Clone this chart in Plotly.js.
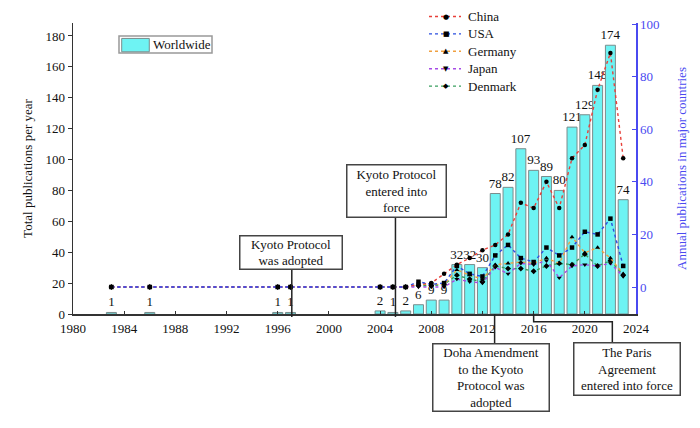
<!DOCTYPE html>
<html>
<head>
<meta charset="utf-8">
<script src="https://cdn.plot.ly/plotly-3.0.1.min.js"></script>
<style>
  html, body { margin: 0; padding: 0; background: #fff; }
  #chart { width: 700px; height: 428px; }
</style>
</head>
<body>
<div id="chart"></div>
<script>
// Publication years
const years = [1983, 1986, 1996, 1997, 2004, 2005, 2006, 2007, 2008, 2009, 2010, 2011,
               2012, 2013, 2014, 2015, 2016, 2017, 2018, 2019, 2020, 2021, 2022, 2023];

// Total publications per year, worldwide (left axis)
const worldwide = [1, 1, 1, 1, 2, 1, 2, 6, 9, 9, 32, 32, 30, 78, 82, 107, 93, 89, 80, 121, 129, 148, 174, 74];

// Annual publications in major countries (right axis)
const china   = [0, 0, 0, 0, 0, 0, 0, 1, 1.5, 5, 8.5, 11, 14, 16, 20, 32, 30, 40, 30, 49, 54, 75, 89, 49];
const usa     = [0, 0, 0, 0, 0, 0, 0, 2, 1, 1.5, 8, 5, 4, 12, 16, 11, 9.5, 15, 12, 15, 21, 20, 26, 8];
const germany = [0, 0, 0, 0, 0, 0, 0, 1, 1, 1, 6.5, 4.5, 3, 8.5, 9, 9.5, 9, 11, 9, 19, 13, 15, 11, 5];
const japan   = [0, 0, 0, 0, 0, 0, 0, 0, 0, 0, 3, 2, 1.5, 7.5, 5, 9, 8.5, 10, 3.5, 8, 8.5, 8, 9, 4];
const denmark = [0, 0, 0, 0, 0, 0, 0, 0.5, 0.5, 1, 4.5, 3, 2, 8, 7, 7, 6, 8, 9, 8.5, 12.5, 8, 10, 4.5];

// Policy milestones
const events = [
  { text: 'Kyoto Protocol<br>was adopted', year: 1997.1 },
  { text: 'Kyoto Protocol<br>entered into<br>force', year: 2005.2 },
  { text: 'Doha Amendment<br>to the Kyoto<br>Protocol was<br>adopted', year: 2012.95 },
  { text: 'The Paris<br>Agreement<br>entered into force', year: 2016.0 }
];

const SERIF = '"Liberation Serif", "Times New Roman", Times, serif';
const AXIS_BLUE = '#4a4af0';
const BAR_FILL = '#6ef3f3';
const BAR_EDGE = '#7a8c8c';

const countries = [
  { name: 'China',   y: china,   color: '#e8403a', symbol: 'circle',        glyph: '\u25CF' },
  { name: 'USA',     y: usa,     color: '#2b4fe0', symbol: 'square',        glyph: '\u25A0' },
  { name: 'Germany', y: germany, color: '#f0a040', symbol: 'triangle-up',   glyph: '\u25B2' },
  { name: 'Japan',   y: japan,   color: '#a64be6', symbol: 'triangle-down', glyph: '\u25BC' },
  { name: 'Denmark', y: denmark, color: '#3aa060', symbol: 'diamond',       glyph: '\u25C6' }
];

const traces = [{
  type: 'bar',
  name: 'Worldwide',
  x: years,
  y: worldwide,
  width: 0.78,
  marker: { color: BAR_FILL, line: { color: BAR_EDGE, width: 1 } },
  text: worldwide.map(String),
  textposition: 'outside',
  constraintext: 'none',
  cliponaxis: false,
  textfont: { family: SERIF, size: 13, color: '#111' },
  hoverinfo: 'x+y'
}];

// draw order: green/orange/red first, blue & purple on top
const drawOrder = ['Denmark', 'Germany', 'China', 'Japan', 'USA'];
drawOrder.forEach(n => {
  const c = countries.find(k => k.name === n);
  traces.push({
    type: 'scatter',
    mode: 'lines+markers',
    name: c.name,
    x: years,
    y: c.y,
    yaxis: 'y2',
    line: { color: c.color, width: 1.4, dash: 'dot' },
    marker: { color: '#000', size: 4.5, symbol: c.symbol },
    cliponaxis: false
  });
});

// milestone boxes
const boxes = [
  { i: 0, x: 1997.05, y: 0.151, anchor: 'bottom', w: 101, h: 32 },
  { i: 1, x: 2005.25, y: 0.330, anchor: 'bottom', w: 98,  h: 51 },
  { i: 2, x: 2012.7,  y: -0.100, anchor: 'top',   w: 115, h: 66 },
  { i: 3, x: 2023.3,  y: -0.097, anchor: 'top',   w: 105, h: 51 }
];

const annotations = boxes.map(b => ({
  text: events[b.i].text,
  xref: 'x', yref: 'paper',
  x: b.x, y: b.y,
  xanchor: 'center', yanchor: b.anchor,
  showarrow: false,
  width: b.w, height: b.h,
  align: 'center', valign: 'middle',
  bgcolor: '#fff',
  bordercolor: '#444',
  borderwidth: 1.5,
  borderpad: 0,
  font: { family: SERIF, size: 13, color: '#111' }
}));

const lineStyle = { color: '#222', width: 1.5 };
const shapes = [
  { type: 'line', xref: 'x', yref: 'paper', x0: events[0].year, x1: events[0].year, y0: -0.01, y1: 0.151, line: lineStyle },
  { type: 'line', xref: 'x', yref: 'paper', x0: events[1].year, x1: events[1].year, y0: -0.01, y1: 0.330, line: lineStyle },
  { type: 'line', xref: 'x', yref: 'paper', x0: events[2].year, x1: events[2].year, y0: 0, y1: -0.100, line: lineStyle },
  { type: 'path', xref: 'x', yref: 'paper',
    path: `M${events[3].year},0 L${events[3].year},-0.027 L2022.15,-0.027 L2022.15,-0.097`,
    line: lineStyle }
];

// legend key for the worldwide bars
shapes.push(
  { type: 'rect', xref: 'paper', yref: 'paper', x0: 0.0817, x1: 0.2469, y0: 0.897, y1: 0.955,
    line: { color: '#999', width: 1.5 }, fillcolor: '#fff' },
  { type: 'rect', xref: 'paper', yref: 'paper', x0: 0.0865, x1: 0.1355, y0: 0.901, y1: 0.947,
    line: { color: BAR_EDGE, width: 1 }, fillcolor: BAR_FILL }
);
annotations.push({
  text: 'Worldwide',
  xref: 'paper', yref: 'paper',
  x: 0.138, y: 0.926,
  xanchor: 'left', yanchor: 'middle',
  showarrow: false,
  font: { family: SERIF, size: 13, color: '#111' }
});

// legend key for the country series (paper coordinates of a plot area 563 x 291 px)
const plotW = 563, plotH = 291, plotL = 73, plotB = 314;
const px = v => (v - plotL) / plotW;
const py = v => (plotB - v) / plotH;
countries.forEach((c, i) => {
  const rowY = 16.5 + i * 17.4;
  shapes.push({
    type: 'line', xref: 'paper', yref: 'paper',
    x0: px(429), x1: px(461), y0: py(rowY), y1: py(rowY),
    line: { color: c.color, width: 1.4, dash: 'dot' }
  });
  annotations.push({
    text: c.glyph, xref: 'paper', yref: 'paper',
    x: px(446), y: py(rowY), xanchor: 'center', yanchor: 'middle',
    showarrow: false,
    font: { family: 'DejaVu Sans', size: 7, color: '#000' }
  });
  annotations.push({
    text: c.name, xref: 'paper', yref: 'paper',
    x: px(466), y: py(rowY), xanchor: 'left', yanchor: 'middle',
    showarrow: false,
    font: { family: SERIF, size: 13, color: '#111' }
  });
});

const layout = {
  width: 700,
  height: 428,
  margin: { l: plotL, r: 700 - plotL - plotW, t: 23, b: 428 - plotB },
  paper_bgcolor: '#fff',
  plot_bgcolor: '#fff',
  font: { family: SERIF, size: 13, color: '#111' },
  bargap: 0,
  showlegend: false,
  xaxis: {
    range: [1980, 2024],
    tickmode: 'array',
    tickvals: [1980, 1984, 1988, 1992, 1996, 2000, 2004, 2008, 2012, 2016, 2020, 2024],
    ticks: 'inside', ticklen: 3, tickwidth: 1, tickcolor: '#333',
    ticklabelstandoff: 2,
    showline: true, linecolor: '#333', linewidth: 1.5,
    showgrid: false, zeroline: false,
    tickfont: { family: SERIF, size: 13, color: '#111' }
  },
  yaxis: {
    range: [0, 188.4],
    tickmode: 'array',
    tickvals: [0, 20, 40, 60, 80, 100, 120, 140, 160, 180],
    ticks: 'outside', ticklen: 4, tickwidth: 1, tickcolor: '#333',
    showline: true, linecolor: '#333', linewidth: 1.5,
    showgrid: false, zeroline: false,
    tickfont: { family: SERIF, size: 13, color: '#111' },
    title: { text: 'Total publications per year', font: { family: SERIF, size: 13, color: '#111' }, standoff: 10 }
  },
  yaxis2: {
    overlaying: 'y',
    side: 'right',
    range: [-10.27, 100.4],
    tickmode: 'array',
    tickvals: [0, 20, 40, 60, 80, 100],
    ticks: 'inside', ticklen: 4, tickwidth: 1, tickcolor: AXIS_BLUE,
    showline: true, linecolor: AXIS_BLUE, linewidth: 1.5,
    showgrid: false, zeroline: false,
    tickfont: { family: SERIF, size: 13, color: AXIS_BLUE },
    title: { text: 'Annual publications in major countries', font: { family: SERIF, size: 13, color: AXIS_BLUE }, standoff: 18 }
  },
  annotations: annotations,
  shapes: shapes
};

Plotly.newPlot('chart', traces, layout, { displayModeBar: false, staticPlot: true });
</script>
</body>
</html>
